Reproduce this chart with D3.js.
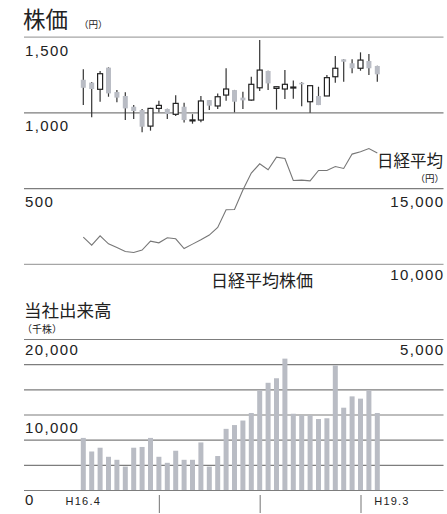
<!DOCTYPE html>
<html>
<head>
<meta charset="utf-8">
<script src="https://cdn.jsdelivr.net/npm/d3@7"></script>
<style>
  body { margin: 0; background: #fff; }
  .num { font-family: "Liberation Sans", Arial, sans-serif; fill: #222; }
  .jp { font-family: "Noto Sans CJK JP", sans-serif; fill: #222; }
</style>
</head>
<body>
<svg id="chart" width="447" height="514"></svg>
<script>
// Monthly data, April 2004 (H16.4) to March 2007 (H19.3)
const months = [
  "H16.4","H16.5","H16.6","H16.7","H16.8","H16.9","H16.10","H16.11","H16.12",
  "H17.1","H17.2","H17.3","H17.4","H17.5","H17.6","H17.7","H17.8","H17.9","H17.10","H17.11","H17.12",
  "H18.1","H18.2","H18.3","H18.4","H18.5","H18.6","H18.7","H18.8","H18.9","H18.10","H18.11","H18.12",
  "H19.1","H19.2","H19.3"
];

// Share price (yen): open / high / low / close
const priceOpen  = [1215,1196,1152,1295,1134,1108,1037,1015, 909,1026,1022, 987,1037, 948, 949,1081,1042,1114,1147,1097,1081,1162,1273,1158,1154,1165,1195,1070,1108,1108,1235,1350,1324,1291,1339,1306];
const priceHigh  = [1284,1200,1273,1297,1147,1132,1048,1022,1030,1077,1024,1112,1063, 988,1108,1082,1125,1291,1148,1136,1235,1478,1274,1170,1279,1210,1198,1176,1169,1246,1372,1351,1350,1396,1385,1307];
const priceLow   = [1048, 967,1070,1103,1066, 949, 956, 868, 879,1000, 956, 976, 933, 925, 934,1015,1022,1077,1000,1022,1077,1141,1147,1018,1088,1090,1040, 998,1048,1108,1196,1202,1258,1275,1246,1202];
const priceClose = [1162,1154,1255,1125,1097,1026,1009, 905,1026,1046, 989,1059, 949, 950,1075,1044,1103,1154,1070,1079,1185,1279,1191,1169,1185,1167,1185,1176,1048,1229,1291,1334,1291,1345,1291,1251];

// Nikkei 225 month-end (yen)
const nikkei = [11763,11235,11850,11321,11077,10813,10747,10905,11500,11387,11717,11651,11011,11300,11585,11896,12398,13567,13587,14872,15991,16605,16209,17048,16956,15502,15528,15482,16163,16163,16427,16295,17246,17398,17615,17312];

// Trading volume (thousand shares)
const volume = [6900,5100,5600,4400,4000,3100,5600,5700,6900,4400,3600,5200,4000,4000,6300,3100,4500,8100,8600,9200,10200,13200,14200,14800,17400,10100,9900,9900,9400,9500,16500,10900,12400,12100,13200,10200];

// Axis labels
const priceTicks  = [1500, 1000, 500];
const nikkeiTicks = [15000, 10000, 5000];
const volumeTicks = [20000, 10000, 0];
const yearStarts  = ["H17.1", "H18.1", "H19.1"];
const edgeLabels  = ["H16.4", "H19.3"];

const svg = d3.select("#chart");
const left = 24, right = 443.5;
const fmt = d3.format(",");

const x = d3.scalePoint().domain(months).range([83.3, 377.3]);
const yPrice  = d3.scaleLinear().domain([0, 1500]).range([263.8, 36.6]);
const yNikkei = d3.scaleLinear().domain([10000, 15000]).range([263.8, 188.1]);
const yVol    = d3.scaleLinear().domain([0, 20000]).range([490, 339]);

// ---- grid lines ----
const gridTop = svg.append("g").attr("transform", `translate(${left},0)`)
  .call(d3.axisRight(yPrice).tickValues([0, 500, 1000, 1500]).tickSize(right - left).tickFormat(""));
gridTop.select(".domain").remove();
gridTop.selectAll(".tick line")
  .attr("stroke", d => (d === 0 || d === 1500) ? "#a6a6a6" : "#7d7d7d")
  .attr("stroke-width", 1.2);

const volGridVals = d3.range(0, 7).map(i => i * 20000 / 6);
const gridBottom = svg.append("g").attr("transform", `translate(${left},0)`)
  .call(d3.axisRight(yVol).tickValues(volGridVals).tickSize(right - left).tickFormat(""));
gridBottom.select(".domain").remove();
gridBottom.selectAll(".tick line").attr("stroke", "#7d7d7d").attr("stroke-width", 1.2);

// ---- volume bars ----
const barW = 5;
svg.append("g").selectAll("rect").data(volume).join("rect")
  .attr("x", (d, i) => x(months[i]) - barW / 2)
  .attr("y", d => yVol(d))
  .attr("width", barW)
  .attr("height", d => yVol(0) - yVol(d))
  .attr("fill", "#b9bcc4");

// ---- Nikkei line ----
svg.append("path")
  .datum(nikkei)
  .attr("fill", "none")
  .attr("stroke", "#777")
  .attr("stroke-width", 1.1)
  .attr("d", d3.line().x((d, i) => x(months[i])).y(d => yNikkei(d)));

// ---- candlesticks ----
const candles = months.map((m, i) => ({
  m, o: priceOpen[i], h: priceHigh[i], l: priceLow[i], c: priceClose[i]
}));
const cw = 5;
const cg = svg.append("g");
cg.selectAll("line").data(candles).join("line")
  .attr("x1", d => x(d.m)).attr("x2", d => x(d.m))
  .attr("y1", d => yPrice(d.h)).attr("y2", d => yPrice(d.l))
  .attr("stroke", "#333").attr("stroke-width", 1.2);
cg.selectAll("rect").data(candles).join("rect")
  .attr("x", d => x(d.m) - cw / 2)
  .attr("y", d => yPrice(Math.max(d.o, d.c)))
  .attr("width", cw)
  .attr("height", d => Math.max(1, Math.abs(yPrice(d.o) - yPrice(d.c))))
  .attr("fill", d => d.c >= d.o ? "#fff" : "#b9bcc4")
  .attr("stroke", d => d.c >= d.o ? "#222" : "none")
  .attr("stroke-width", 1.2);

// ---- month ticks ----
const xAxis = svg.append("g").attr("transform", "translate(0,495)")
  .call(d3.axisBottom(x).tickValues(yearStarts).tickSize(18).tickFormat(""));
xAxis.select(".domain").remove();
xAxis.selectAll(".tick line").attr("stroke", "#8a8a8a").attr("stroke-width", 1.2);

// ---- axis labels ----
const numText = (t, xx, yy, anchor, size, ls) =>
  svg.append("text").attr("class", "num").attr("x", xx).attr("y", yy)
    .attr("text-anchor", anchor).attr("font-size", size)
    .attr("letter-spacing", ls).text(t);

priceTicks.forEach(v => numText(fmt(v), left + 1, yPrice(v) + 19, "start", 15, 1.4));
nikkeiTicks.forEach((v, i) => numText(fmt(v), right + 1, [207, 280, 355][i], "end", 15, 1.4));
numText(fmt(volumeTicks[0]), left + 1, yVol(volumeTicks[0]) + 16, "start", 15, 1.4);
numText(fmt(volumeTicks[1]), left + 1, yVol(volumeTicks[1]) + 18, "start", 15, 1.4);
numText(fmt(volumeTicks[2]), left + 1, 505, "start", 15, 1.4);
numText(edgeLabels[0], x(edgeLabels[0]), 505, "middle", 11, 1.2);
numText(edgeLabels[1], x(edgeLabels[1]) - 3, 505, "start", 11, 1.2);

// ---- titles ----
const jpText = (t, xx, yy, size, anchor = "start") =>
  svg.append("text").attr("class", "jp").attr("x", xx).attr("y", yy)
    .attr("font-size", size).attr("text-anchor", anchor).text(t);

jpText("株価", 23, 28, 22.5);
jpText("（円）", 79, 28, 9.5);
jpText("日経平均", 377, 167, 16.5);
jpText("（円）", 444, 182, 9.5, "end");
jpText("日経平均株価", 211, 287, 17);
jpText("当社出来高", 24, 317, 17.5);
jpText("（千株）", 22, 333, 10);
</script>
</body>
</html>
